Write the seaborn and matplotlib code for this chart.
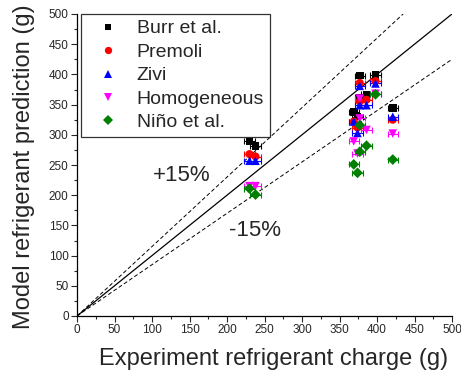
import numpy as np
import pandas as pd
import matplotlib
matplotlib.use("Agg")
import matplotlib.pyplot as plt
import seaborn as sns
from matplotlib.ticker import MultipleLocator

# du lieu doc tu hinh (g)
experiment = [230, 238, 369, 374, 377, 377, 386, 398, 421]
burr = [289, 281, 338, 330, 398, 362, 367, 399, 344]
premoli = [268, 264, 322, 312, 386, 355, 358, 389, 325]
zivi = [257, 257, 322, 303, 381, 349, 349, 385, 330]
homogeneous = [215, 215, 289, 269, 360, 327, 308, 368, 302]
nino = [211, 201, 251, 237, 316, 272, 282, 367, 259]
x_err = 7

models = ["Burr et al.", "Premoli", "Zivi", "Homogeneous", "Niño et al."]
colors = ["black", "red", "blue", "magenta", "green"]
markers = ["s", "o", "^", "v", "D"]
marker_sizes = [30, 34, 38, 38, 30]

# duong tham chieu y = k*x
ref_x = [0, 500]
ref_slopes = [1.0, 1.15, 0.85]

sns.set_style("ticks")
plt.rcParams['font.family'] = ['Liberation Sans', 'DejaVu Sans']

rows = []
for name, vals in zip(models, [burr, premoli, zivi, homogeneous, nino]):
    for xe, yp in zip(experiment, vals):
        rows.append({'model': name, 'experiment': xe, 'prediction': yp})
df = pd.DataFrame(rows)

fig = plt.figure(figsize=(4.61, 3.79), dpi=100)
ax = fig.add_axes([77 / 461, 1 - 316 / 379, 375 / 461, 302 / 379])

for k in ref_slopes:
    ax.plot(ref_x, [k * v for v in ref_x], color='black',
            lw=0.9 if k == 1.0 else 0.7,
            ls='-' if k == 1.0 else (0, (4, 2.5)), zorder=1)

# thanh sai so ngang
for name, col in zip(models, colors):
    sub = df[df['model'] == name]
    ax.errorbar(sub['experiment'], sub['prediction'], xerr=x_err, fmt='none',
                ecolor=col, elinewidth=0.8, capsize=2.5, capthick=0.8, zorder=2)

sns.scatterplot(data=df, x='experiment', y='prediction', hue='model', style='model',
                hue_order=models, style_order=models,
                palette=dict(zip(models, colors)), markers=dict(zip(models, markers)),
                size='model', sizes=dict(zip(models, marker_sizes)),
                linewidth=0, ax=ax, zorder=3)

ax.text(178, 233, "+15%", fontsize=16, ha='right', va='center')
ax.text(202, 141, "-15%", fontsize=16, ha='left', va='center')

ax.set_xlim(0, 500)
ax.set_ylim(0, 500)
ax.xaxis.set_major_locator(MultipleLocator(50))
ax.xaxis.set_minor_locator(MultipleLocator(25))
ax.yaxis.set_major_locator(MultipleLocator(50))
ax.yaxis.set_minor_locator(MultipleLocator(25))
ax.tick_params(which='major', direction='out', length=4, width=0.8, labelsize=8.5, pad=2)
ax.tick_params(which='minor', direction='out', length=2.5, width=0.8)
for s in ['top', 'right']:
    ax.spines[s].set_visible(False)
for s in ['left', 'bottom']:
    ax.spines[s].set_color('black')
    ax.spines[s].set_linewidth(0.9)

ax.set_xlabel("Experiment refrigerant charge (g)", fontsize=17)
ax.set_ylabel("Model refrigerant prediction (g)", fontsize=17)
ax.xaxis.set_label_coords(0.525, -0.105)
ax.yaxis.set_label_coords(-0.113, 0.495)

handles, labels = ax.get_legend_handles_labels()
leg = ax.legend(handles[:5], labels[:5], loc='upper left', bbox_to_anchor=(0.011, 1.0),
                borderaxespad=0, fancybox=False, frameon=True, edgecolor='black',
                fontsize=14, handletextpad=0.35, labelspacing=0.3, borderpad=0.3,
                markerscale=0.9, handlelength=2.2)
leg.get_frame().set_linewidth(0.9)

fig.savefig("out.png", dpi=100)
